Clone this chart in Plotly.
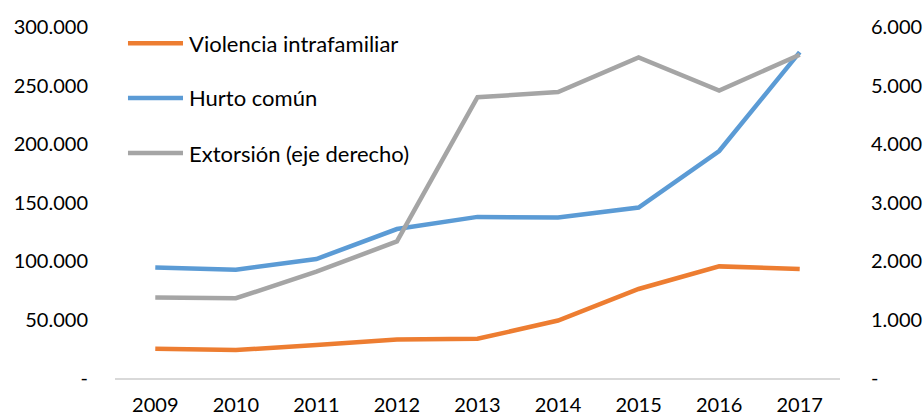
import plotly.graph_objects as go

years = ["2009", "2010", "2011", "2012", "2013", "2014", "2015", "2016", "2017"]
violencia = [25000, 23900, 28100, 33000, 33500, 49100, 76100, 95400, 93200]
hurto = [94500, 92600, 101700, 127300, 137700, 137100, 145700, 194000, 278500]
extorsion = [1375, 1363, 1818, 2334, 4799, 4889, 5480, 4913, 5526]

names = ["Violencia intrafamiliar", "Hurto común", "Extorsión (eje derecho)"]
colors = ["#ED7D31", "#5B9BD5", "#A5A5A5"]

left_vals = [0, 50000, 100000, 150000, 200000, 250000, 300000]
left_text = ["-", "50.000", "100.000", "150.000", "200.000", "250.000", "300.000"]
right_vals = [0, 1000, 2000, 3000, 4000, 5000, 6000]
right_text = ["-", "1.000", "2.000", "3.000", "4.000", "5.000", "6.000"]

FONT = "Lato, 'Open Sans', sans-serif"
LW = 4.5

fig = go.Figure()
fig.add_trace(go.Scatter(x=years, y=extorsion, name=names[2], mode="lines",
                         line=dict(color=colors[2], width=LW), yaxis="y2"))
fig.add_trace(go.Scatter(x=years, y=violencia, name=names[0], mode="lines",
                         line=dict(color=colors[0], width=LW)))
fig.add_trace(go.Scatter(x=years, y=hurto, name=names[1], mode="lines",
                         line=dict(color=colors[1], width=LW)))

# manual legend
leg_y = [0.954, 0.798, 0.641]
shapes = []
annotations = []
for i in range(3):
    shapes.append(dict(type="line", xref="paper", yref="paper",
                       x0=0.0179, x1=0.0938, y0=leg_y[i], y1=leg_y[i],
                       line=dict(color=colors[i], width=LW)))
    annotations.append(dict(xref="paper", yref="paper", x=0.0993, y=leg_y[i],
                            text=names[i], showarrow=False, xanchor="left",
                            yanchor="middle", font=dict(size=22, color="#000000", family=FONT)))

fig.update_layout(
    width=923, height=415,
    margin=dict(l=115, r=83, t=27, b=37),
    paper_bgcolor="white", plot_bgcolor="white",
    showlegend=False,
    font=dict(family=FONT, size=20, color="#000000"),
    shapes=shapes, annotations=annotations,
    xaxis=dict(type="category", range=[-0.5, 8.5], automargin=False,
               showgrid=False, zeroline=False,
               showline=True, linecolor="#D9D9D9", linewidth=1.5,
               ticks="outside", ticklen=8, tickcolor="rgba(0,0,0,0)",
               tickfont=dict(size=20), fixedrange=True),
    yaxis=dict(range=[0, 300000], tickvals=left_vals, ticktext=left_text,
               automargin=False,
               showgrid=False, zeroline=False, showline=False,
               ticks="outside", ticklen=22, tickcolor="rgba(0,0,0,0)",
               tickfont=dict(size=20)),
    yaxis2=dict(range=[0, 6000], tickvals=right_vals, ticktext=right_text,
                overlaying="y", side="right", automargin=False,
                showgrid=False, zeroline=False, showline=False,
                ticks="outside", ticklen=26, tickcolor="rgba(0,0,0,0)",
                tickfont=dict(size=20)),
)

# remove the default page margin so the 923x415 figure fills the window exactly
fig.write_html("out.html",
               config={"displayModeBar": False},
               post_script="document.body.style.margin='0';document.body.style.overflow='hidden';")
